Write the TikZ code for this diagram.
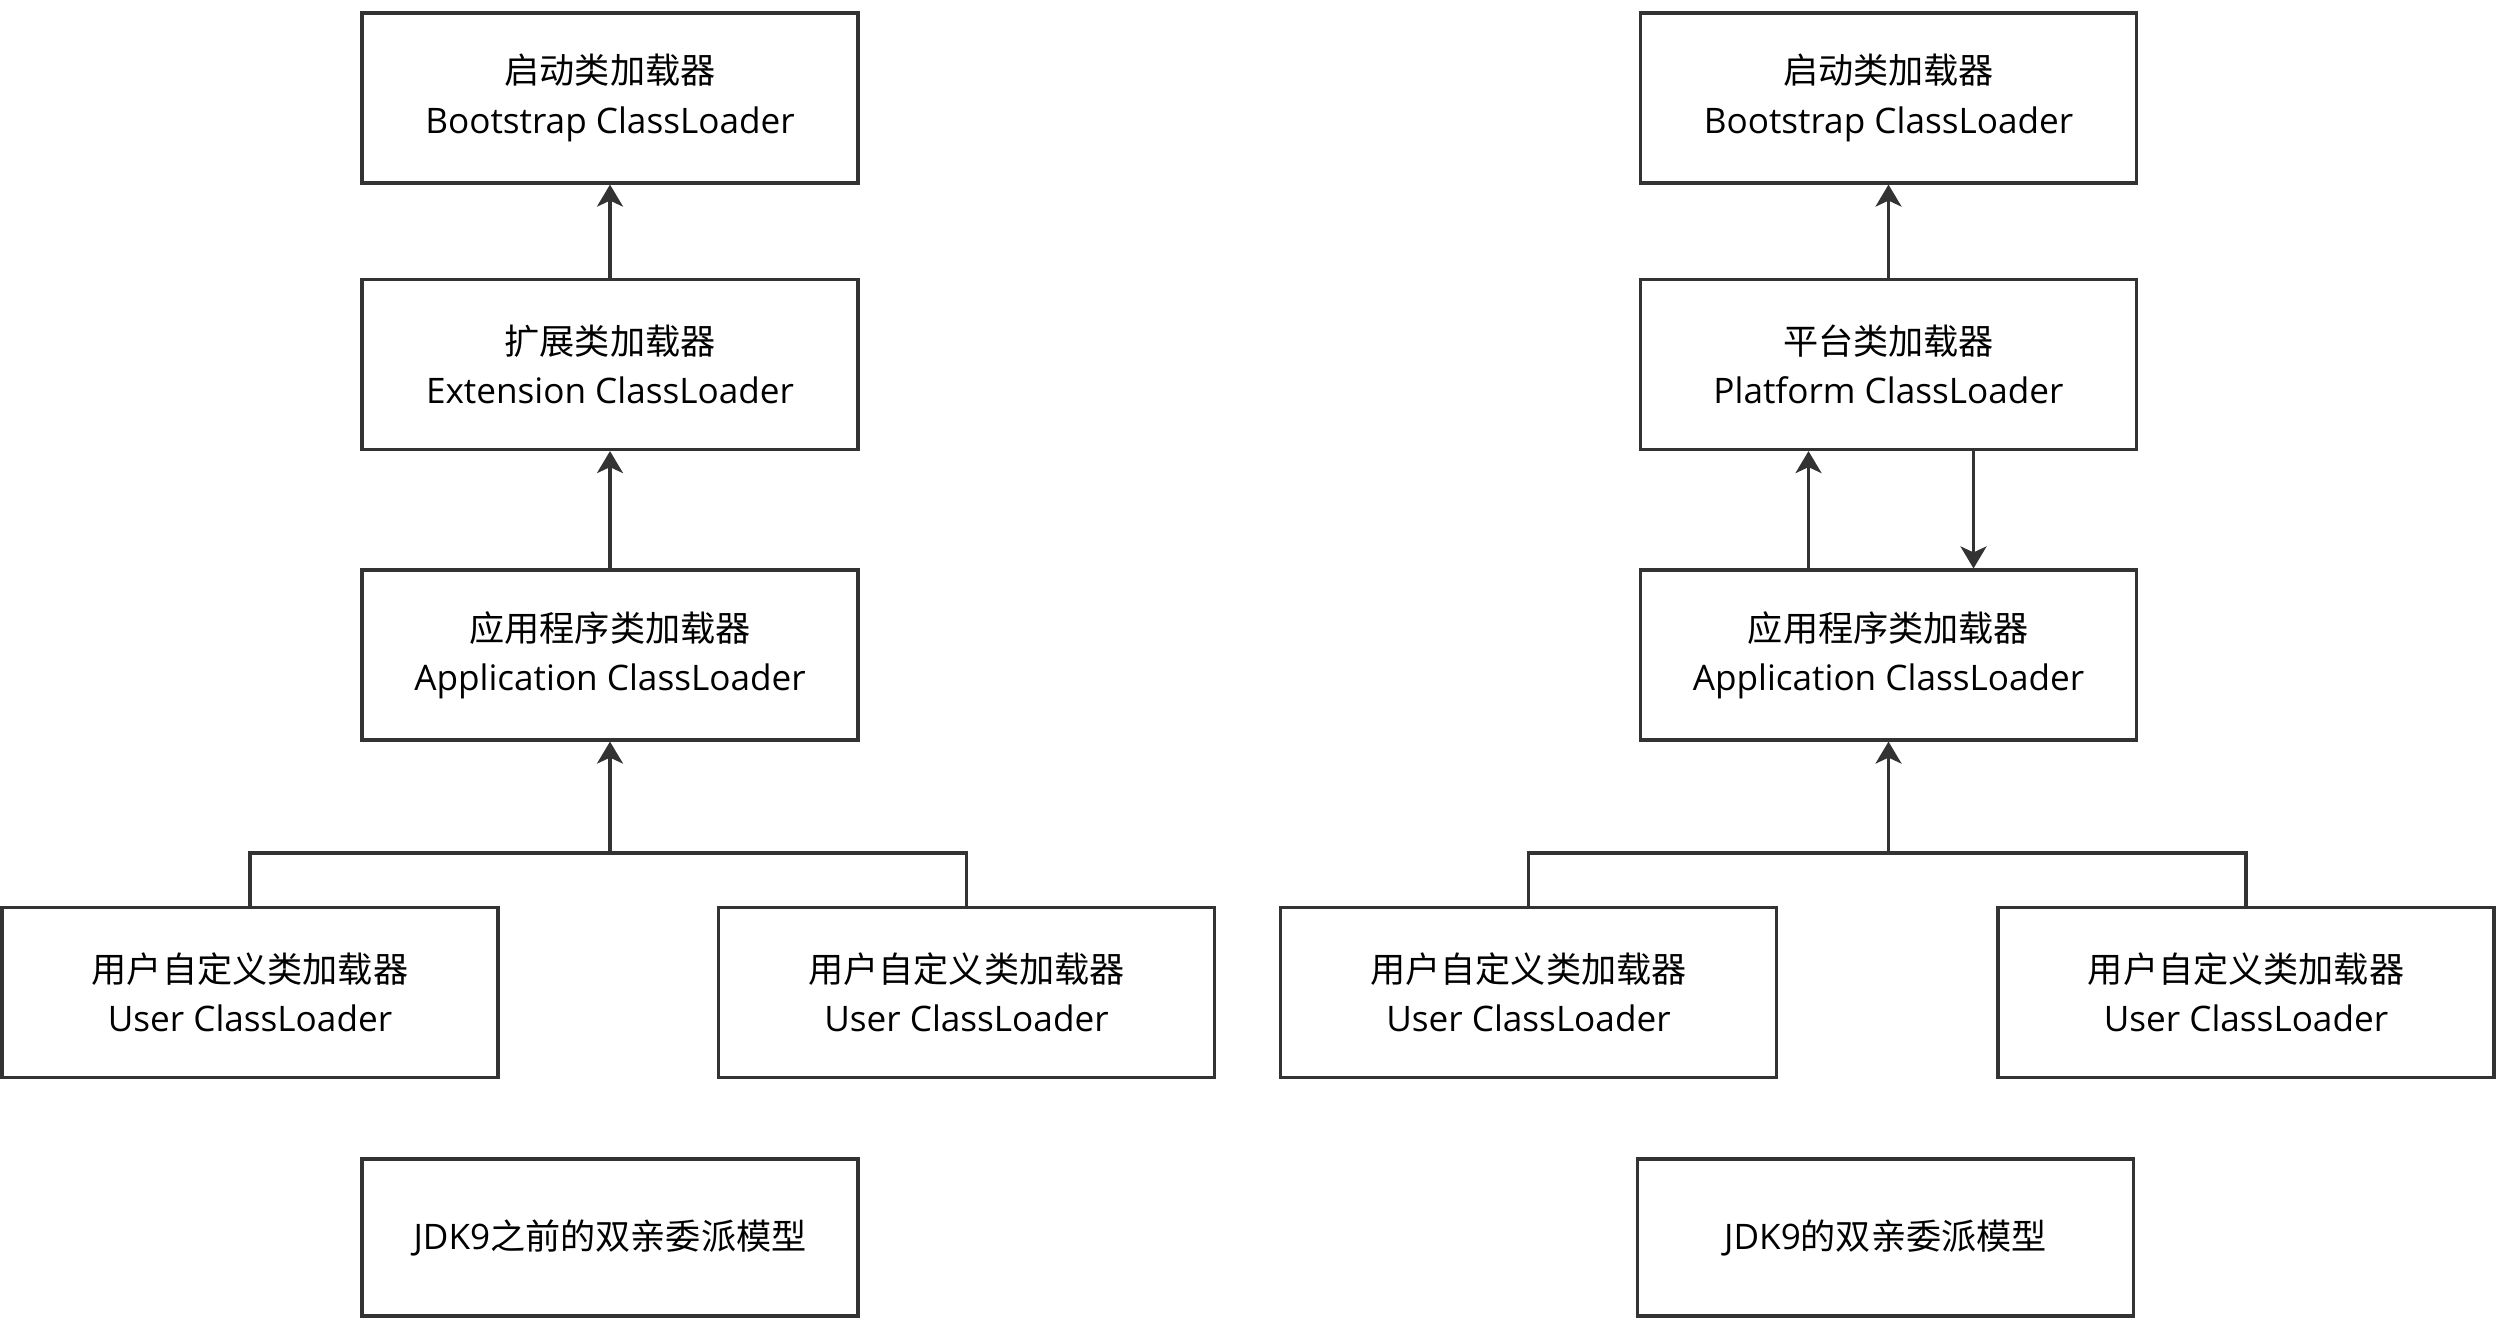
\documentclass[tikz,border=0pt]{standalone}
\usepackage{fontspec}
\setmainfont{Open Sans}
\newfontfamily\cjk{Noto Sans CJK SC}
\usepackage{tikz}
\usetikzlibrary{arrows.meta}

\begin{document}
\begin{tikzpicture}[
		loader/.style={draw=black!80,line width=0.9pt,minimum width=4.96cm,minimum height=1.70cm,align=center,font=\fontsize{10}{14}\selectfont,inner sep=0pt},
		caption/.style={loader,minimum height=1.57cm},
		arr/.style={draw=black!80,line width=0.9pt,-{Stealth[length=0.22cm,width=0.26cm,inset=0.06cm]}},
		ln/.style={draw=black!80,line width=0.9pt}]
	\useasboundingbox (0,0) rectangle (24.96,-13.24);
	% JDK9 before
	\node[loader] (boot) at (6.10,-0.98) {{\cjk 启动类加载器}\\Bootstrap ClassLoader};
	\node[loader] (ext) at (6.10,-3.645) {{\cjk 扩展类加载器}\\Extension ClassLoader};
	\node[loader] (app) at (6.10,-6.55) {{\cjk 应用程序类加载器}\\Application ClassLoader};
	\node[loader] (usera) at (2.50,-9.925) {{\cjk 用户自定义类加载器}\\User ClassLoader};
	\node[loader] (userb) at (9.665,-9.925) {{\cjk 用户自定义类加载器}\\User ClassLoader};
	\node[caption] (capa) at (6.10,-12.375) {JDK9{\cjk 之前的双亲委派模型}};
	\coordinate (joina) at (6.10,-8.53);
	\draw[arr] (ext) -- (boot);
	\draw[arr] (app) -- (ext);
	\draw[arr] (joina) -- (app);
	\draw[ln] (usera.north) |- (joina) -| (userb.north);
	% JDK9
	\node[loader] (pboot) at (18.885,-0.98) {{\cjk 启动类加载器}\\Bootstrap ClassLoader};
	\node[loader] (plat) at (18.885,-3.645) {{\cjk 平台类加载器}\\Platform ClassLoader};
	\node[loader] (papp) at (18.885,-6.55) {{\cjk 应用程序类加载器}\\Application ClassLoader};
	\node[loader] (userc) at (15.285,-9.925) {{\cjk 用户自定义类加载器}\\User ClassLoader};
	\node[loader] (userd) at (22.46,-9.925) {{\cjk 用户自定义类加载器}\\User ClassLoader};
	\node[caption] (capb) at (18.855,-12.375) {JDK9{\cjk 的双亲委派模型}};
	\coordinate (joinb) at (18.885,-8.53);
	\draw[arr] (plat) -- (pboot);
	\draw[arr] ([xshift=-0.80cm]papp.north) -- ([xshift=-0.80cm]plat.south);
	\draw[arr] ([xshift=0.85cm]plat.south) -- ([xshift=0.85cm]papp.north);
	\draw[arr] (joinb) -- (papp);
	\draw[ln] (userc.north) |- (joinb) -| (userd.north);
\end{tikzpicture}
\end{document}
